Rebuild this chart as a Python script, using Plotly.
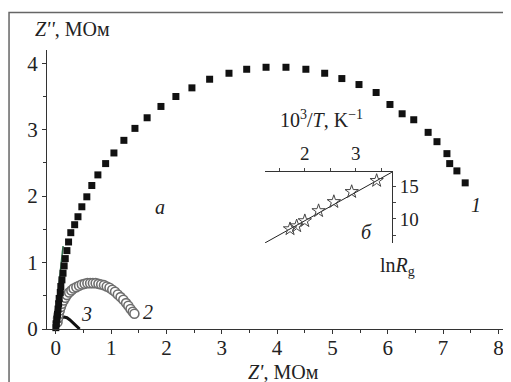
import plotly.graph_objs as go

# curve 1 (filled squares), MOhm
z1_re = [0.0, 0.01, 0.02, 0.03, 0.04, 0.05, 0.06, 0.08, 0.09, 0.11, 0.13, 0.15, 0.17, 0.20, 0.23,
         0.27, 0.34, 0.40, 0.47, 0.56, 0.65, 0.76, 0.90, 1.05, 1.23, 1.43, 1.65, 1.90, 2.17, 2.46,
         2.78, 3.13, 3.45, 3.80, 4.16, 4.52, 4.86, 5.17, 5.48, 5.79, 6.04, 6.26, 6.47, 6.73, 6.89,
         7.07, 7.12, 7.25, 7.40]
z1_im = [0.02, 0.08, 0.15, 0.22, 0.30, 0.38, 0.46, 0.55, 0.64, 0.74, 0.84, 0.95, 1.06, 1.18, 1.31,
         1.45, 1.57, 1.69, 1.84, 1.99, 2.16, 2.32, 2.49, 2.65, 2.84, 3.02, 3.18, 3.35, 3.50, 3.63,
         3.76, 3.85, 3.91, 3.94, 3.94, 3.91, 3.85, 3.77, 3.68, 3.56, 3.38, 3.24, 3.15, 2.96, 2.82,
         2.64, 2.49, 2.38, 2.20]

# thin green trace along the start of curve 1
g_re = [-0.03, 0.03, 0.08, 0.13]
g_im = [0.0, 0.45, 0.85, 1.25]

# curve 2 (open circles)
z2_re = [0.03, 0.04, 0.05, 0.07, 0.09, 0.11, 0.14, 0.17, 0.20, 0.24, 0.28, 0.32, 0.37, 0.42, 0.47,
         0.52, 0.57, 0.62, 0.67, 0.72, 0.77, 0.82, 0.87, 0.92, 0.97, 1.02, 1.07, 1.12, 1.17, 1.22,
         1.27, 1.31, 1.35, 1.39, 1.42]
z2_im = [0.10, 0.16, 0.22, 0.28, 0.33, 0.38, 0.43, 0.47, 0.51, 0.55, 0.58, 0.61, 0.63, 0.65, 0.67,
         0.68, 0.69, 0.69, 0.69, 0.69, 0.68, 0.67, 0.66, 0.64, 0.62, 0.59, 0.56, 0.52, 0.48, 0.44,
         0.39, 0.35, 0.30, 0.26, 0.23]

# curve 3 (solid line)
z3_re = [0.0, 0.02, 0.05, 0.10, 0.15, 0.20, 0.25, 0.30, 0.35, 0.40, 0.43]
z3_im = [0.0, 0.08, 0.13, 0.17, 0.18, 0.17, 0.14, 0.10, 0.06, 0.02, 0.0]

# inset: ln Rg vs 1000/T
inv_t = [1.71, 1.84, 2.00, 2.27, 2.57, 2.92, 3.41]
ln_rg = [8.44, 8.90, 9.69, 11.25, 12.66, 14.22, 15.94]
fit_x = [1.22, 3.71]
fit_y = [6.28, 17.26]

FONT = "Liberation Serif"

fig = go.Figure()
fig.add_trace(go.Scatter(x=g_re, y=g_im, mode='lines',
                         line=dict(color='#2d6b48', width=1.5), cliponaxis=False))
fig.add_trace(go.Scatter(x=z3_re, y=z3_im, mode='lines',
                         line=dict(color='#111', width=3), cliponaxis=False))
fig.add_trace(go.Scatter(x=z2_re, y=z2_im, mode='markers', cliponaxis=False,
                         marker=dict(symbol='circle', size=9, color='white',
                                     line=dict(color='#6e6e6e', width=1.6))))
fig.add_trace(go.Scatter(x=z1_re, y=z1_im, mode='markers', cliponaxis=False,
                         marker=dict(symbol='square', size=7, color='#111')))
fig.add_trace(go.Scatter(x=fit_x, y=fit_y, mode='lines', xaxis='x2', yaxis='y2',
                         line=dict(color='#222', width=1), cliponaxis=False))
fig.add_trace(go.Scatter(x=inv_t, y=ln_rg, mode='markers', xaxis='x2', yaxis='y2',
                         cliponaxis=False,
                         marker=dict(symbol='star-open', size=10, color='#444',
                                     line=dict(width=1))))

axis_common = dict(showline=True, linecolor='#333', linewidth=1, showgrid=False,
                   zeroline=False, ticks='outside', ticklen=4, tickcolor='#333',
                   tickfont=dict(family=FONT, size=21, color='#222'))

# page body has an 8px margin, so the figure is 8px smaller than the window
fig.update_layout(
    width=503, height=374,
    margin=dict(l=39, r=1, t=42, b=53),
    paper_bgcolor='white', plot_bgcolor='white',
    showlegend=False,
    xaxis=dict(range=[-0.16, 8.21], dtick=1, tick0=0, ticklabelstandoff=-4,
               minor=dict(dtick=0.5, ticks='outside', ticklen=3, tickcolor='#333'),
               **axis_common),
    yaxis=dict(range=[0, 4.2], dtick=1, tick0=0,
               minor=dict(dtick=0.5, ticks='outside', ticklen=3, tickcolor='#333'),
               **axis_common),
    xaxis2=dict(domain=[0.471, 0.745], anchor='y2', side='top', range=[1.22, 3.71],
                tickvals=[2, 3], showline=True, linecolor='#333', linewidth=1,
                showgrid=False, zeroline=False, ticks='outside', ticklen=3,
                minor=dict(tickvals=[1.5, 2.5, 3.5], ticks='outside', ticklen=3),
                tickfont=dict(family=FONT, size=19, color='#222')),
    yaxis2=dict(domain=[0.308, 0.563], anchor='x2', side='right', range=[6.25, 17.3],
                tickvals=[10, 15], showline=True, linecolor='#333', linewidth=1,
                showgrid=False, zeroline=False, ticks='outside', ticklen=3,
                minor=dict(tickvals=[7.5, 12.5, 17.5], ticks='outside', ticklen=3),
                tickfont=dict(family=FONT, size=19, color='#222')),
    shapes=[dict(type='rect', xref='paper', yref='paper', x0=-0.082, x1=1.2,
                 y0=-0.4, y1=1.134, line=dict(color='#666', width=1.5))],
)

txt = dict(family=FONT, size=20, color='#222')
notes = [
    dict(x=0.054, y=1.075, xref='paper', yref='paper', text="<i>Z''</i>, МОм"),
    dict(x=0.51, y=-0.155, xref='paper', yref='paper', text="<i>Z'</i>, МОм"),
    dict(x=0.592, y=0.752, xref='paper', yref='paper',
         text="10<sup>3</sup>/<i>T</i>, K<sup>−1</sup>"),
    dict(x=0.758, y=0.225, xref='paper', yref='paper', text="ln<i>R</i><sub>g</sub>"),
    dict(x=1.88, y=1.83, xref='x', yref='y', text="<i>а</i>"),
    dict(x=5.62, y=1.46, xref='x', yref='y', text="<i>б</i>"),
    dict(x=7.6, y=1.86, xref='x', yref='y', text="<i>1</i>"),
    dict(x=1.66, y=0.26, xref='x', yref='y', text="<i>2</i>"),
    dict(x=0.56, y=0.23, xref='x', yref='y', text="<i>3</i>"),
]
for n in notes:
    fig.add_annotation(showarrow=False, font=txt, xanchor='center', yanchor='middle', **n)

fig.write_html("out.html")
